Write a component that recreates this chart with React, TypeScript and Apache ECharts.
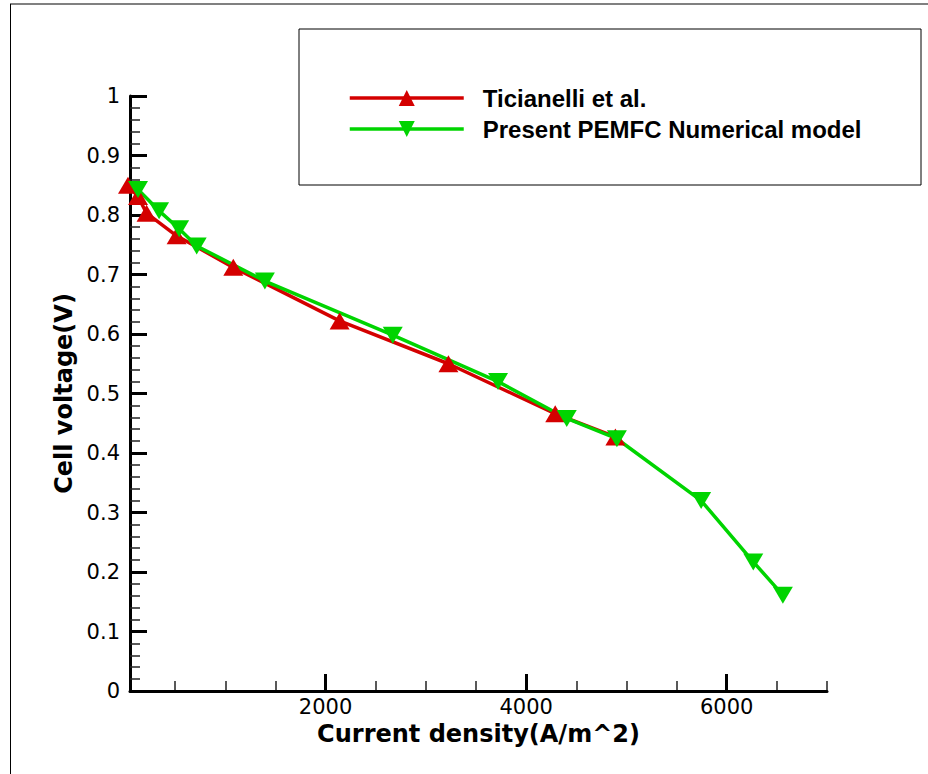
import React, { useEffect, useRef } from "react";
import * as echarts from "echarts";

const expCurrent = [30, 130, 215, 515, 1080, 2140, 3225, 4290, 4890];
const expVoltage = [0.85, 0.831, 0.803, 0.765, 0.712, 0.622, 0.55, 0.466, 0.427];
const modelCurrent = [130, 340, 540, 715, 1395, 2670, 3720, 4405, 4905, 5745, 6265, 6560];
const modelVoltage = [0.843, 0.807, 0.777, 0.748, 0.689, 0.598, 0.52, 0.458, 0.424, 0.32, 0.217, 0.161];
const xMajorTicks = [2000, 4000, 6000];
const xMinorTicks = [500, 1000, 1500, 2500, 3000, 3500, 4500, 5000, 5500, 6500, 7000];
const seriesNames = ["Ticianelli et al.", "Present PEMFC Numerical model"];

export default function App() {
  const ref = useRef<HTMLDivElement>(null);
  useEffect(() => {
    document.body.style.margin = "0";
    const chart = echarts.init(ref.current!, null, { renderer: "svg" });
    const axisFont = "DejaVu Sans";
    chart.setOption({
      animation: false,
      backgroundColor: "#ffffff",
      grid: { left: 130, right: 101, top: 96, bottom: 83, containLabel: false, outerBoundsMode: "none" },
      legend: {
        orient: "vertical",
        left: 348,
        top: 86,
        padding: 0,
        itemWidth: 114,
        itemHeight: 20,
        itemGap: 7,
        data: seriesNames,
        lineStyle: { width: 3.5 },
        textStyle: {
          fontFamily: "Liberation Sans",
          fontWeight: "bold",
          fontSize: 24,
          color: "#000",
          padding: [0, 0, 0, 14],
        },
      },
      graphic: [
        { type: "rect", shape: { x: 299, y: 29, width: 622, height: 156 }, style: { fill: "none", stroke: "#000", lineWidth: 1 }, z: 0 },
        { type: "line", shape: { x1: 10, y1: 4, x2: 928, y2: 4 }, style: { stroke: "#808080", lineWidth: 2 } },
        { type: "line", shape: { x1: 10.5, y1: 4, x2: 10.5, y2: 774 }, style: { stroke: "#000", lineWidth: 1 } },
      ],
      xAxis: [
        {
          type: "value",
          min: 50,
          max: 7000,
          name: "Current density(A/m^2)",
          nameLocation: "middle",
          nameGap: 27,
          nameTextStyle: { fontFamily: axisFont, fontWeight: "bold", fontSize: 24, color: "#000" },
          axisLine: { show: true, lineStyle: { color: "#000", width: 3 } },
          axisTick: { show: true, inside: true, length: 17, customValues: xMajorTicks, lineStyle: { color: "#000", width: 3 } },
          axisLabel: {
            customValues: xMajorTicks,
            fontFamily: axisFont,
            fontSize: 21,
            color: "#000",
            margin: 5,
            formatter: (v: number) => String(Math.round(v)),
          },
          splitLine: { show: false },
          z: 3,
        },
        {
          type: "value",
          min: 50,
          max: 7000,
          position: "bottom",
          axisLine: { show: false },
          axisTick: { show: true, inside: true, length: 10, customValues: xMinorTicks, lineStyle: { color: "#222", width: 1.5 } },
          axisLabel: { show: false },
          splitLine: { show: false },
        },
      ],
      yAxis: {
        type: "value",
        min: 0,
        max: 1,
        interval: 0.1,
        name: "Cell voltage(V)",
        nameLocation: "middle",
        nameGap: 54,
        nameRotate: 90,
        nameTextStyle: { fontFamily: axisFont, fontWeight: "bold", fontSize: 24, color: "#000" },
        axisLine: { show: true, lineStyle: { color: "#000", width: 3 } },
        axisTick: { show: true, inside: true, length: 17, lineStyle: { color: "#000", width: 3 } },
        minorTick: { show: true, splitNumber: 5, length: 10, lineStyle: { color: "#222", width: 1.5 } },
        axisLabel: {
          fontFamily: axisFont,
          fontSize: 21,
          color: "#000",
          margin: 10,
          formatter: (v: number) => (v === 0 ? "0" : v === 1 ? "1" : v.toFixed(1)),
        },
        splitLine: { show: false },
        minorSplitLine: { show: false },
      },
      series: [
        {
          name: seriesNames[0],
          type: "line",
          xAxisIndex: 0,
          data: expCurrent.map((c, i) => [c, expVoltage[i]]),
          symbol: "triangle",
          symbolSize: [20, 17],
          clip: false,
          lineStyle: { color: "#d40000", width: 3.5 },
          itemStyle: { color: "#d40000" },
        },
        {
          name: seriesNames[1],
          type: "line",
          xAxisIndex: 0,
          data: modelCurrent.map((c, i) => [c, modelVoltage[i]]),
          symbol: "triangle",
          symbolRotate: 180,
          symbolSize: [20, 17],
          clip: false,
          lineStyle: { color: "#00d400", width: 3.5 },
          itemStyle: { color: "#00d400" },
        },
      ],
    });
    return () => chart.dispose();
  }, []);
  return <div ref={ref} style={{ position: "absolute", left: 0, top: 0, width: 928, height: 774 }} />;
}
